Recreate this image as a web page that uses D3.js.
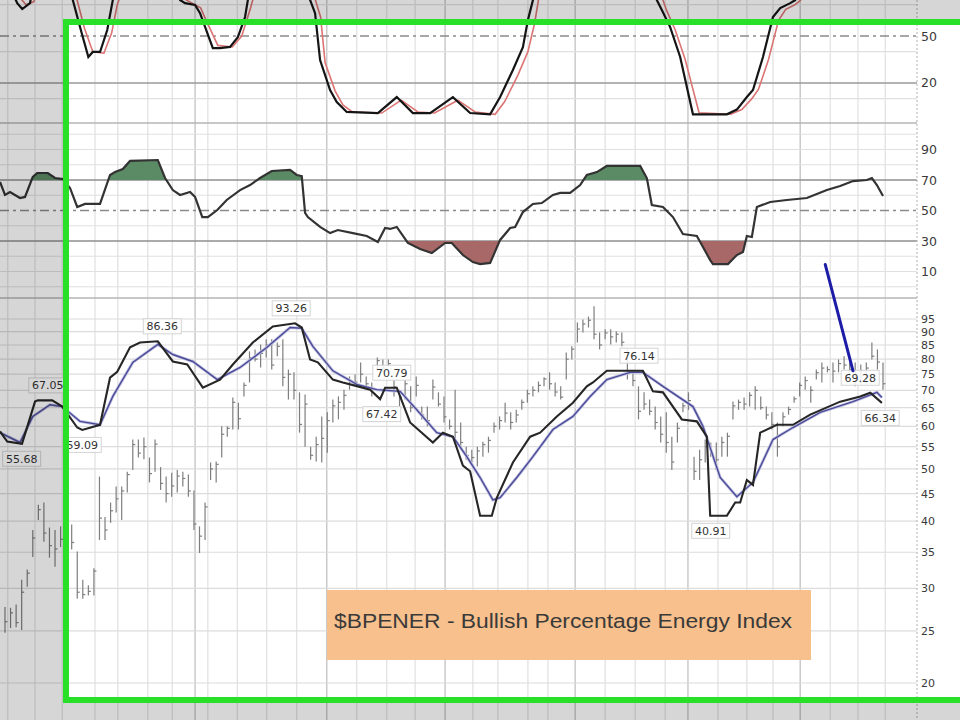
<!DOCTYPE html>
<html><head><meta charset="utf-8">
<script src="https://cdn.jsdelivr.net/npm/d3@7"></script>
<style>body{margin:0;background:#fff}svg{display:block}</style>
</head><body><svg id="c" width="960" height="720"></svg>
<script>
// ---------- DATA ----------
const barHigh = [27.7,27.6,28.0,31.1,32.5,38.5,42.9,43.3,38.9,38.5,39.1,39.7,39.4,35.1,31.1,30.4,32.7,48.4,40.7,43.3,
46.4,46.4,49.4,56.7,56.7,57.2,52.5,56.7,50.4,48.4,49.2,49.8,49.4,48.8,45.6,39.1,43.3,51.4,51.6,60.0,
60.0,67.9,66.4,72.4,82.7,83.4,85.2,87.1,87.1,85.9,87.1,76.5,75.6,69.4,68.8,55.0,57.4,62.6,63.7,67.3,
68.2,70.2,74.3,74.9,78.9,74.3,72.4,80.6,79.9,79.9,73.3,70.2,73.3,71.2,74.3,65.3,65.3,73.3,69.4,68.2,
61.8,70.2,61.0,55.0,54.3,55.0,56.2,57.4,61.0,62.6,66.4,63.7,64.4,67.3,70.2,71.2,72.7,74.0,75.6,72.4,
71.2,82.3,84.5,93.6,94.8,96.0,100.3,89.7,90.9,90.9,90.1,89.7,83.4,75.6,71.2,69.4,67.3,65.3,62.6,63.7,
57.4,61.0,66.4,69.4,52.7,54.3,56.7,56.0,56.0,57.4,58.4,66.7,67.3,67.9,69.4,71.2,68.2,65.3,63.7,61.0,
63.7,65.3,68.2,72.4,74.3,71.2,76.5,78.9,77.6,78.9,79.9,81.0,78.9,78.9,78.2,78.9,85.9,83.4,78.9];
const barLow = [24.8,25.3,25.4,25.1,30.2,34.3,40.2,36.6,34.2,32.9,35.8,35.8,35.4,28.7,28.7,29.1,29.1,36.9,36.9,39.7,
41.5,40.2,45.2,49.8,52.5,52.1,47.2,49.4,45.7,43.3,44.4,45.2,46.4,44.4,38.5,34.9,36.9,47.7,47.2,52.5,
57.4,59.2,59.2,68.2,72.4,79.2,77.2,80.6,76.5,81.0,71.2,67.3,67.3,58.4,55.0,52.0,51.6,51.4,53.6,61.0,
61.8,64.4,70.2,71.2,72.4,70.2,68.2,76.5,75.6,77.6,68.2,65.3,67.3,63.7,68.2,61.8,60.0,67.3,65.3,61.0,
59.2,56.7,55.0,52.0,51.4,50.5,52.7,53.6,58.4,59.2,61.0,59.2,61.0,64.4,66.4,68.2,69.4,71.2,70.2,68.2,
67.3,73.3,79.9,85.9,89.7,91.6,87.1,83.4,87.1,85.2,85.9,84.5,73.3,71.2,61.8,64.4,62.9,59.2,56.0,53.6,
49.8,56.0,63.7,64.4,47.7,47.7,51.4,52.7,49.8,52.7,52.7,61.8,64.4,64.4,65.3,64.4,64.4,61.8,59.2,52.7,
60.0,63.1,66.4,68.2,70.2,66.4,73.3,72.4,75.6,72.4,75.6,76.5,74.3,71.2,71.8,72.4,79.9,76.5,70.2];
const barClose = [26.0,27.0,25.9,29.5,32.0,37.2,42.0,38.0,36.0,35.5,37.0,38.4,36.5,29.5,29.2,29.6,32.3,40.5,38.5,41.8,
44.0,45.5,48.8,55.5,53.5,55.0,49.0,55.6,47.0,45.0,46.5,48.5,48.0,45.5,39.5,37.5,42.5,50.0,51.0,58.0,
59.5,66.5,62.0,71.5,80.5,80.0,82.0,85.0,78.0,84.5,74.0,75.0,70.0,60.5,66.0,53.0,55.5,57.0,61.5,65.5,
66.5,68.5,73.0,72.5,75.0,72.0,70.5,79.5,77.0,78.5,71.0,68.0,72.0,65.0,71.5,63.0,61.5,71.0,66.0,62.5,
60.0,58.5,56.0,53.0,52.5,54.0,55.5,56.5,60.0,61.5,63.5,61.0,63.0,66.5,69.0,70.0,71.5,73.5,72.0,69.5,
68.0,80.0,83.5,91.0,93.0,94.5,89.0,85.0,89.5,88.0,89.0,86.0,76.0,73.0,64.0,66.0,64.0,61.0,58.0,56.0,
51.5,59.5,65.5,67.0,49.5,52.0,55.0,53.5,52.0,56.0,57.5,65.5,66.5,66.0,68.5,70.0,65.0,63.0,60.5,55.0,
62.5,64.5,67.5,71.5,73.0,70.0,75.5,77.0,76.5,76.0,78.5,78.0,76.5,75.0,76.0,77.0,81.0,79.0,72.0];

// [bar index, value]
const fastLine = [[-0.9,58.7],[0.4,56.2],[3.06,55.68],[5.4,66.7],[5.9,67.05],[8.5,67.05],[10.3,65.3],[13.0,59.7],[13.9,59.09],
[17.1,60.4],[18.9,73.9],[20.2,75.8],[22.5,84.2],[24.3,85.9],[27.5,86.36],[30.2,79.2],[32.8,78.2],[35.6,70.8],[38.7,73.3],
[41.0,78.2],[44.6,85.9],[48.2,92.0],[52.2,93.26],[53.4,91.6],[54.9,79.9],[56.3,78.9],[59.0,73.3],[60.8,72.4],[63.5,71.2],
[65.7,70.2],[67.5,67.42],[68.4,70.79],[70.5,70.79],[72.9,61.0],[77.0,56.0],[78.8,58.4],[80.6,57.4],[82.4,50.7],[83.7,49.5],
[85.5,40.91],[87.6,40.91],[88.5,44.2],[91.4,51.4],[94.5,57.4],[96.3,58.4],[99.3,62.6],[102.2,66.4],[104.7,71.2],[105.8,72.4],
[108.3,76.14],[114.8,76.14],[116.6,69.7],[118.4,69.4],[121.8,61.8],[124.5,61.3],[126.3,57.4],[126.9,40.91],[129.9,40.91],
[131.4,43.3],[132.3,43.3],[133.5,47.7],[134.6,46.7],[135.9,58.4],[138.9,60.4],[141.8,60.4],[144.9,63.1],[150.3,66.7],
[153.9,68.2],[155.7,69.28],[157.8,66.34]];
const slowLine = [[-0.9,58.4],[2.7,56.0],[5.0,62.6],[8.1,65.8],[10.3,65.3],[13.5,61.3],[17.1,60.4],[19.4,68.2],[23.0,78.9],
[27.5,85.2],[30.2,81.6],[33.8,79.2],[38.2,73.3],[42.3,77.2],[47.1,84.1],[51.3,91.6],[53.4,91.3],[55.4,84.5],[59.0,76.1],
[63.3,71.8],[66.9,70.2],[71.1,69.7],[74.1,64.4],[77.7,58.4],[80.6,57.4],[83.1,52.7],[85.5,48.2],[87.8,43.8],[89.1,44.2],
[92.1,48.2],[95.0,52.7],[98.6,59.2],[102.2,62.6],[105.3,68.2],[108.3,73.3],[112.5,75.6],[114.8,75.6],[118.4,71.2],
[123.8,65.3],[125.6,60.0],[128.7,48.2],[131.7,44.4],[134.6,47.2],[138.2,56.7],[141.8,59.7],[146.7,63.7],[152.6,66.7],
[156.9,69.4],[157.8,67.9]];
// [bar index, value, text, side]
const priceLabels = [[7.7,67.05,"67.05","up"],[3.0,55.68,"55.68","down"],[13.9,59.09,"59.09","down"],[28.3,86.36,"86.36","up"],
[51.5,93.26,"93.26","up"],[67.8,67.42,"67.42","down"],[69.6,70.79,"70.79","up"],[114.1,76.14,"76.14","up"],
[127.0,40.91,"40.91","down"],[153.9,69.28,"69.28","up"],[157.5,66.34,"66.34","down"]];

const rsiLine = [[-0.9,68.7],[0,60.2],[0.9,62.1],[2.7,58.2],[3.6,58.9],[5.0,72.0],[5.8,74.6],[7.7,74.6],[9.0,71.3],[10.4,70.7],
[11.7,64.8],[13.0,52.3],[14.4,54.3],[17.1,54.3],[18.9,73.3],[19.8,75.2],[21.2,77.2],[22.5,82.5],[27.5,83.1],[28.8,71.3],
[30.2,63.4],[31.5,60.2],[33.3,62.1],[34.2,58.9],[35.5,45.7],[36.5,45.7],[38.2,50.3],[39.9,56.9],[42.3,63.4],[44.1,66.7],
[45.9,71.3],[48.0,75.9],[51.3,76.6],[52.5,73.3],[53.4,72.6],[54.0,48.4],[54.5,45.7],[56.7,39.2],[58.5,35.2],[59.9,37.2],
[62.6,35.2],[65.1,33.3],[67.1,29.3],[68.4,38.5],[69.3,37.9],[70.5,39.2],[72.5,28.7],[74.7,24.8],[76.8,22.1],[79.2,28.7],
[80.4,28.7],[82.4,20.8],[84.2,16.2],[85.5,14.9],[87.3,15.6],[89.1,30.7],[90.9,38.5],[91.8,39.2],[93.2,49.0],[95.0,54.3],
[96.6,54.9],[98.6,60.2],[99.9,61.5],[101.7,61.5],[103.5,66.7],[104.7,73.3],[106.5,75.2],[108.3,79.2],[114.3,79.2],
[115.5,71.3],[116.4,53.6],[118.4,52.3],[120.2,45.7],[122.0,34.6],[124.5,33.3],[126.9,17.5],[127.4,14.9],[130.1,14.9],
[131.7,20.8],[132.8,22.8],[133.5,33.3],[134.4,32.6],[135.3,52.3],[137.7,55.6],[140.7,56.9],[144.3,58.2],[147.9,63.4],
[150.3,66.1],[152.6,69.3],[155.1,70.0],[156.0,71.3],[156.9,66.7],[158.0,59.5]];

const stochK = [[-0.9,95],[2.2,71],[3.1,67.2],[4.5,71],[5.5,90],[10,95],[12.2,73],[13.5,55.7],[15.0,36.6],[15.8,39.8],
[17.1,39.8],[18.4,53.8],[19.4,72.9],[21,90],[25,97],[30,95],[31.5,73],[32.4,71],[34.2,69.8],[35.1,64.6],[37.4,42.3],
[38.7,42.3],[40.5,43],[41.9,49.3],[43.2,62.1],[43.7,72.9],[45,90],[48,97],[52,95],[54.9,73],[55.8,64.6],[56.7,34.6],
[58.5,15.5],[59.7,7.8],[61.5,1.5],[67.1,0.8],[70.5,11],[73.4,0.8],[76.5,0.8],[80.6,11],[83.7,0.8],[87.3,0],[89.1,11],
[91.4,28.3],[93.2,42.9],[94.1,60.2],[95.0,72.9],[97,90],[100,97],[110,98],[115,96],[117.3,72.9],[118.2,66.6],[119.7,55.7],
[121.5,36.6],[123.8,0],[129.9,0],[131.7,3],[133.5,11],[134.6,15.5],[136.4,36.6],[138.2,62.1],[139.5,67.8],[141.3,71],
[142.2,72.9],[144,85],[148,92],[158,90]];
const stochD = [[-0.9,93],[2.8,74],[3.8,70],[5.2,72],[6.5,88],[12.0,86],[12.9,74],[14.3,55],[15.8,40],[17.8,39],[19.2,52],
[20.2,70],[22,88],[31,88],[32.6,73],[35.2,68],[36.2,60],[38.3,44],[40.9,43],[42.6,50],[44.2,68],[45.5,85],[54,90],
[55.6,76],[56.8,62],[57.6,33],[59.4,15],[60.8,6],[62.5,1.5],[67.8,0.8],[71.3,9],[74.3,1.5],[77.3,0.8],[81.5,9],[84.6,1.5],
[88.2,0],[89.9,8],[92.3,25],[94.1,40],[95.3,58],[96,73],[98,88],[117,90],[118.2,75],[119.1,66],[120.6,54],[122.4,35],
[124.9,1],[130.6,0],[132.6,3],[134.4,10],[135.6,16],[137.4,35],[139.2,60],[140.5,67],[142.2,70],[143.2,73],[145,85],[158,90]];

const priceTicks = [20,25,30,35,40,45,50,55,60,65,70,75,80,85,90,95];
const rsiTicks = [10,30,50,70,90];
const rsiGrid = [0,10,20,40,60,80,90,100];
const stochTicks = [20,50];
const stochGrid = [10,40,70];
const weekLines = [0.5,5.4,10.3,16.2,20.3,25.7,30.1,36.5,41.8,47.1,52.5,63.3,68.7,73.8,84.2,88.7,94.1,97.7,108.0,113.4,118.8,
128.3,133.5,138.2,148.5,153.5,158.4];
const monthLines = [34.2,57.9,79.2,102.6,122.9,143.1];
const title = "$BPENER - Bullish Percentage Energy Index";
const arrow = [[147.6,120],[152.6,76.1]];

// ---------- SCALES ----------
const svg = d3.select("#c");
const x = d3.scaleLinear().domain([0,158]).range([5,883]);
const axisX = 917;
const yP = d3.scaleLog().domain([20,95]).range([683,319]);
const yR = d3.scaleLinear().domain([30,70]).range([241,180]);
const yS = d3.scaleLinear().domain([0,50]).range([114.3,36]);
const panels = {stoch:[-5,123], rsi:[123,298], price:[298,720]};

svg.append("rect").attr("width",960).attr("height",720).attr("fill","#fff");
const defs = svg.append("defs");
Object.entries(panels).forEach(([k,[a,b]])=>{
  defs.append("clipPath").attr("id","cp-"+k).append("rect").attr("x",0).attr("y",a).attr("width",axisX).attr("height",b-a);
});
defs.append("clipPath").attr("id","cp-ob").append("rect").attr("x",0).attr("y",0).attr("width",axisX).attr("height",yR(70));
defs.append("clipPath").attr("id","cp-os").append("rect").attr("x",0).attr("y",yR(30)).attr("width",axisX).attr("height",300-yR(30));

// vertical grid
const grid = svg.append("g");
grid.selectAll("line.w").data(weekLines).join("line").attr("x1",d=>x(d)).attr("x2",d=>x(d)).attr("y1",0).attr("y2",720)
  .attr("stroke","#e0e0e0").attr("stroke-width",1.2);
grid.selectAll("line.m").data(monthLines).join("line").attr("x1",d=>x(d)).attr("x2",d=>x(d)).attr("y1",0).attr("y2",720)
  .attr("stroke","#c6c6c6").attr("stroke-width",1.4);

// horizontal grids
function hline(g,y,stroke,w,dash){
  g.append("line").attr("x1",0).attr("x2",axisX).attr("y1",y).attr("y2",y).attr("stroke",stroke).attr("stroke-width",w)
   .attr("stroke-dasharray",dash||null);
}
const hg = svg.append("g");
stochGrid.forEach(v=>hline(hg,yS(v),"#e0e0e0",1.2));
hline(hg,yS(20),"#9a9a9a",1.5);
hline(hg,yS(50),"#8a8a8a",1.5,"9,4,3,4");
rsiGrid.forEach(v=>hline(hg,yR(v),"#e0e0e0",1.2));
hline(hg,yR(70),"#8f8f8f",1.6);
hline(hg,yR(30),"#8f8f8f",1.6);
hline(hg,yR(50),"#8a8a8a",1.5,"9,4,3,4");
priceTicks.forEach(v=>hline(hg,yP(v),"#dcdcdc",1.2));
hline(hg,123,"#b4b4b4",1.4);
hline(hg,298,"#b4b4b4",1.4);

// right axis
svg.append("line").attr("x1",axisX).attr("x2",axisX).attr("y1",0).attr("y2",720).attr("stroke","#b0b0b0").attr("stroke-dasharray","2,2");
const axG = svg.append("g").attr("font-family","DejaVu Sans, Verdana, sans-serif").attr("fill","#3a3a3a");
[[stochTicks,yS,12.5],[rsiTicks,yR,12.5],[priceTicks,yP,11]].forEach(([ticks,sc,fs])=>{
  axG.append("g").attr("font-size",fs).selectAll("text").data(ticks).join("text")
    .attr("x",axisX+4).attr("y",d=>sc(d)).attr("dy","0.36em").text(d=>d);
});

// stochastics
const sG = svg.append("g").attr("clip-path","url(#cp-stoch)");
const lineS = d3.line().x(d=>x(d[0])).y(d=>yS(d[1]));
sG.append("path").attr("d",lineS(stochD)).attr("fill","none").attr("stroke","#dc7474").attr("stroke-width",1.6);
sG.append("path").attr("d",lineS(stochK)).attr("fill","none").attr("stroke","#151515").attr("stroke-width",2.2);

// RSI
const rG = svg.append("g").attr("clip-path","url(#cp-rsi)");
rG.append("g").attr("clip-path","url(#cp-ob)").append("path")
  .attr("d",d3.area().x(d=>x(d[0])).y0(yR(70)).y1(d=>yR(d[1]))(rsiLine)).attr("fill","#5b8b64");
rG.append("g").attr("clip-path","url(#cp-os)").append("path")
  .attr("d",d3.area().x(d=>x(d[0])).y0(yR(30)).y1(d=>yR(d[1]))(rsiLine)).attr("fill","#a96868");
rG.append("path").attr("d",d3.line().x(d=>x(d[0])).y(d=>yR(d[1]))(rsiLine)).attr("fill","none").attr("stroke","#333").attr("stroke-width",2.2);

// price
const pG = svg.append("g").attr("clip-path","url(#cp-price)");
const bars = pG.append("g").attr("stroke","#7e7e7e").attr("stroke-width",1.2);
barHigh.forEach((h,i)=>{
  bars.append("line").attr("x1",x(i)).attr("x2",x(i)).attr("y1",yP(h)).attr("y2",yP(barLow[i]));
  bars.append("line").attr("x1",x(i)).attr("x2",x(i)+2.5).attr("y1",yP(barClose[i])).attr("y2",yP(barClose[i]));
});
const lineP = d3.line().x(d=>x(d[0])).y(d=>yP(d[1]));
pG.append("path").attr("d",lineP(slowLine)).attr("fill","none").attr("stroke","#c0c0e0").attr("stroke-width",3);
pG.append("path").attr("d",lineP(slowLine)).attr("fill","none").attr("stroke","#4a4a98").attr("stroke-width",1.4);
pG.append("path").attr("d",lineP(fastLine)).attr("fill","none").attr("stroke","#262626").attr("stroke-width",2.1);

const lab = pG.append("g").attr("font-family","DejaVu Sans, Verdana, sans-serif").attr("font-size",11).attr("fill","#333");
priceLabels.forEach(([i,v,t,side])=>{
  const cy = yP(v) + (side==="up" ? -15 : 15);
  const g = lab.append("g");
  g.append("rect").attr("x",x(i)-19).attr("y",cy-7.5).attr("width",38).attr("height",15)
    .attr("fill","#fff").attr("fill-opacity",0.85).attr("stroke","#d4d4d4");
  g.append("text").attr("x",x(i)).attr("y",cy).attr("dy","0.36em").attr("text-anchor","middle").text(t);
});

// annotation arrow
svg.append("line").attr("x1",x(arrow[0][0])).attr("y1",yP(arrow[0][1])).attr("x2",x(arrow[1][0])).attr("y2",yP(arrow[1][1]))
  .attr("stroke","#1c1ca6").attr("stroke-width",3).attr("stroke-linecap","round");

// title box
svg.append("rect").attr("x",327).attr("y",590).attr("width",484).attr("height",70).attr("fill","#f7c08c");
svg.append("text").attr("x",563).attr("y",621).attr("dy","0.36em").attr("text-anchor","middle")
  .attr("font-family","Liberation Sans, Arial, sans-serif").attr("font-size",20).attr("fill","#3a3a3a")
  .attr("textLength",458).attr("lengthAdjust","spacingAndGlyphs").text(title);

// highlight overlay + green frame
svg.append("path").attr("d","M0,0H960V720H0Z M63,19H960V703H63Z").attr("fill-rule","evenodd").attr("fill","rgba(0,0,0,0.16)");
svg.append("rect").attr("x",66).attr("y",22).attr("width",920).attr("height",678)
  .attr("fill","none").attr("stroke","#28e028").attr("stroke-width",6);
</script></body></html>
